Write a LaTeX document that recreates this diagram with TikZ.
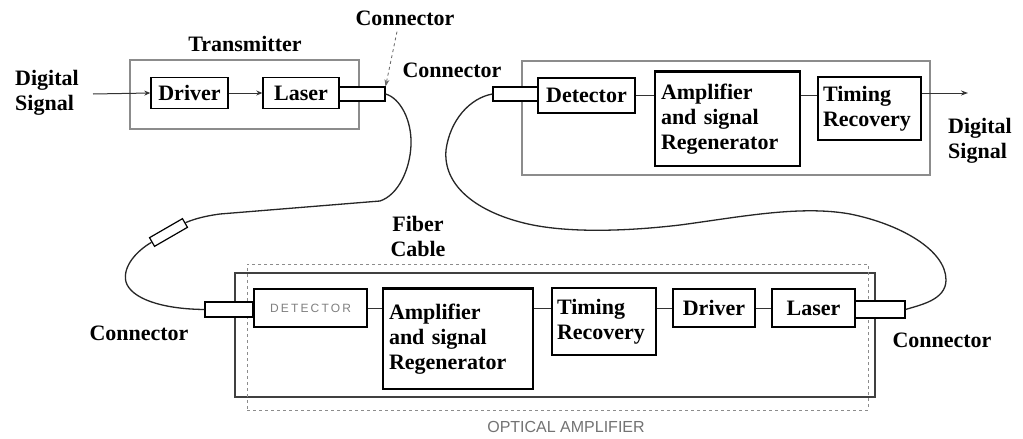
\documentclass[tikz,border=0pt]{standalone}
\usepackage{fontspec}
\setmainfont{Liberation Serif}[BoldFont={Liberation Serif Bold}]
\newfontfamily\lsans{Liberation Sans}
\usetikzlibrary{arrows.meta}
\begin{document}
\begin{tikzpicture}[x=1pt,y=-1pt,
  lbl/.style={font=\fontsize{22}{25}\selectfont\bfseries, inner sep=0pt},
  blk/.style={draw=black, line width=1.4pt, inner sep=0pt, font=\fontsize{22}{25}\selectfont\bfseries},
  grp/.style={draw=black!45, line width=1.1pt, inner sep=0pt},
  conn/.style={draw=black, line width=1.1pt, fill=white, inner sep=0pt},
  fiber/.style={draw=black!85, line width=1.3pt},
  wire/.style={draw=black!80, line width=1pt},
  dot/.style={-{Stealth[length=6pt,width=5pt]}}
]
\useasboundingbox (0,0) rectangle (1023,439);
\fill[white] (0,0) rectangle (1023,439);

% ---------- Transmitter ----------
\node[grp, minimum width=229pt, minimum height=69pt] (tx) at (244.5,94.5) {};
\node[lbl] (txl) at (245,44) {Transmitter};
\node[blk, minimum width=77pt, minimum height=31pt] (drv1) at (189.5,93) {Driver};
\node[blk, minimum width=76pt, minimum height=31pt] (las1) at (301,93) {Laser};
\node[conn, minimum width=46pt, minimum height=14pt] (c1) at (362,94) {};
\node[lbl, align=left, anchor=west] (dsin) at (15,93) {Digital\\Signal};
\coordinate (in1) at (93,94);
\draw[wire, dot] (in1) -- (drv1.west);
\draw[wire, dot] (drv1.east) -- (las1.west);
\node[lbl] (c1l) at (405,18) {Connector};
\draw[black!60, line width=0.8pt, dashed, -{Stealth[length=7pt,width=5pt]}] (c1l.south) ++(-8,6) -- (c1.north east);

% ---------- Receiver ----------
\node[grp, minimum width=408pt, minimum height=114pt] (rx) at (726,118) {};
\node[conn, minimum width=45pt, minimum height=14pt] (c2) at (515.5,94) {};
\node[blk, minimum width=97pt, minimum height=35pt] (det2) at (586.5,95.5) {Detector};
\node[blk, minimum width=145pt, minimum height=94pt, align=left, text width=133pt] (amp2) at (727.5,119) {Amplifier\\and signal\\Regenerator};
\draw[line width=2.4pt] (amp2.north west) -- (amp2.north east);
\node[blk, minimum width=103pt, minimum height=63pt, align=left, text width=93pt] (tim2) at (869.5,108.5) {Timing\\Recovery};
\draw[wire] (det2.east) -- (det2.east -| amp2.west);
\draw[wire] (det2.east -| amp2.east) -- (det2.east -| tim2.west);
\coordinate (out2) at (968,93);
\draw[wire, -{Stealth[length=7pt,width=5pt]}] (out2 -| tim2.east) -- (out2);
\node[lbl] (c2l) at (452,70) {Connector};
\node[lbl, align=left, anchor=west] (dsout) at (948,141) {Digital\\Signal};

% ---------- Optical amplifier ----------
\node[draw=black!75, line width=1.2pt, minimum width=640pt, minimum height=124pt, inner sep=0pt] (oa) at (555,335) {};
\node[draw=black!45, line width=0.9pt, dashed, minimum width=621pt, minimum height=146pt, inner sep=0pt] (oad) at (557.5,337) {};
\node[conn, minimum width=48pt, minimum height=15pt] (c3) at (229,309.5) {};
\node[blk, minimum width=113pt, minimum height=38pt, font=\lsans\fontsize{12}{14}\selectfont\addfontfeature{LetterSpace=18}, text=black!50] (det3) at (310.5,308) {DETECTOR};
\node[blk, minimum width=150pt, minimum height=100pt, align=left, text width=138pt] (amp3) at (458,339) {Amplifier\\and signal\\Regenerator};
\draw[line width=2.4pt] (amp3.north west) -- (amp3.north east);
\node[blk, minimum width=104pt, minimum height=67pt, align=left, text width=94pt] (tim3) at (604,321.5) {Timing\\Recovery};
\node[blk, minimum width=82pt, minimum height=38pt] (drv3) at (714,308) {Driver};
\node[blk, minimum width=83pt, minimum height=38pt] (las3) at (813.5,308) {Laser};
\node[conn, minimum width=50pt, minimum height=17pt] (c4) at (880,309.5) {};
\draw[wire] (det3.east) -- (det3.east -| amp3.west);
\draw[wire] (det3.east -| amp3.east) -- (det3.east -| tim3.west);
\draw[wire] (det3.east -| tim3.east) -- (drv3.west);
\draw[wire] (drv3.east) -- (las3.west);
\node[lbl] (c3l) at (139,333) {Connector};
\node[lbl] (c4l) at (942,340) {Connector};
\node[font=\lsans\fontsize{16}{18}\selectfont, text=black!55, inner sep=0pt] (oal) at (566,427) {OPTICAL AMPLIFIER};

% ---------- Fibers ----------
\node[conn, line width=1.2pt, minimum width=38pt, minimum height=10pt, rotate=30] (inl) at (168.5,232.5) {};
\node[lbl, align=center] (fc) at (418,236) {Fiber\\Cable};
\draw[fiber] (c1.east) .. controls (400,98) and (412,120) .. (411,145)
  .. controls (410,170) and (398,195) .. (380,201) -- (220,214)
  .. controls (205,216) and (194,219) .. (inl.east);
\draw[fiber] (inl.west) .. controls (138,250) and (122,266) .. (126,282)
  .. controls (131,298) and (160,309) .. (c3.west);
\draw[fiber] (c2.west) .. controls (470,98) and (450,120) .. (446,150)
  .. controls (443,185) and (475,210) .. (520,222)
  .. controls (560,233) and (620,232) .. (680,225)
  .. controls (740,217) and (800,205) .. (850,214)
  .. controls (900,224) and (946,250) .. (946,280)
  .. controls (946,300) and (920,305) .. (c4.east);
\end{tikzpicture}
\end{document}
